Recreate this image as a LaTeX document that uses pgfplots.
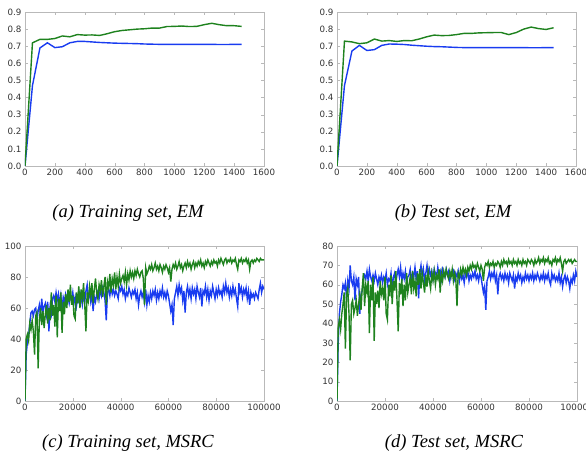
\documentclass[border=0pt]{standalone}
\usepackage{pgfplots}
\pgfplotsset{compat=1.18}
\usepackage{pgfplotstable}
\usepackage{fontspec}
\setmainfont{DejaVu Sans}
\newfontfamily\capfont{Liberation Serif}

\definecolor{mplgreen}{RGB}{30,130,30}
\definecolor{mplblue}{RGB}{25,60,240}

% EM curves: x g b
\pgfplotstableread{
x g b
0 0 0
50 0.72 0.47
100 0.74 0.69
150 0.74 0.72
200 0.745 0.692
250 0.76 0.697
300 0.755 0.72
350 0.768 0.728
400 0.765 0.728
450 0.766 0.725
500 0.763 0.722
550 0.773 0.72
600 0.785 0.718
650 0.792 0.717
700 0.796 0.716
750 0.80 0.715
800 0.802 0.713
850 0.806 0.712
900 0.806 0.711
950 0.815 0.711
1000 0.816 0.711
1050 0.818 0.711
1100 0.815 0.711
1150 0.816 0.711
1200 0.826 0.711
1250 0.834 0.711
1300 0.826 0.710
1350 0.82 0.710
1400 0.82 0.711
1450 0.816 0.711
}\emtrain

\pgfplotstableread{
x g b
0 0 0
50 0.73 0.47
100 0.725 0.672
150 0.715 0.705
200 0.72 0.675
250 0.742 0.68
300 0.73 0.705
350 0.733 0.713
400 0.728 0.712
450 0.733 0.71
500 0.732 0.706
550 0.742 0.703
600 0.755 0.70
650 0.765 0.698
700 0.762 0.697
750 0.763 0.695
800 0.768 0.693
850 0.775 0.692
900 0.775 0.692
950 0.778 0.692
1000 0.779 0.692
1050 0.78 0.692
1100 0.78 0.692
1150 0.768 0.692
1200 0.78 0.692
1250 0.80 0.692
1300 0.812 0.691
1350 0.803 0.691
1400 0.798 0.692
1450 0.808 0.692
}\emtest

% MSRC curves: cg cb = training set, dg db = test set
\pgfplotstableread{
x cg cb dg db
0 0 0 0 0
500 40 30 38 30
1000 43 38 42 45
1500 39 42 37 51
2000 50 50 45 55
2500 46 57 50 60
3000 52 58 56 58
3500 45 55 27 61
4000 30 59 55 52
4500 55 60 58 62
5000 57 52 45 58
5500 21 58 21 70
6000 52 62 50 62
6500 60 56 52 60
7000 49 66 45 64
7500 58 57 48 52
8000 47 61 52 63
8500 56 63 44 60
9000 62 56 50 64
9500 50 64 55 45
10000 60 45 47 55
10500 52 60 58 57
11000 70 56 66 63
11500 55 66 49 65
12000 62 68 60 63
12500 48 64 56 67
13000 68 70 62 62
13500 41 65 35 68
14000 66 69 60 64
14500 58 62 52 62
15000 70 68 64 65
15500 44 60 31 62
16000 64 67 56 66
16500 56 64 50 63
17000 69 69 57 60
17500 60 66 48 64
18000 72 67 62 62
18500 64 63 55 65
19000 75 68 58 61
19500 62 65 52 64
20000 68 70 64 62
20500 55 63 45 66
21000 53 67 42 60
21500 70 61 60 63
22000 63 66 54 62
22500 74 64 65 66
23000 60 70 50 58
23500 72 67 62 64
24000 66 62 57 66
24500 76 68 67 61
25000 62 64 52 65
25500 45 71 36 68
26000 70 75 61 64
26500 65 66 55 69
27000 74 70 63 62
27500 68 64 49 66
28000 76 69 60 63
28500 63 58 52 67
29000 72 67 66 61
29500 79 64 56 64
30000 70 69 60 65
30500 66 71 64 68
31000 75 66 55 62
31500 71 72 67 66
32000 78 68 58 64
32500 67 73 62 69
33000 74 70 54 63
33500 80 65 66 67
34000 62 52 60 53
34500 77 70 68 66
35000 73 72 58 70
35500 82 68 66 64
36000 70 74 61 68
36500 79 69 56 62
37000 75 72 65 66
37500 83 68 59 70
38000 72 71 67 64
38500 80 69 62 68
39000 74 66 58 65
39500 82 73 66 67
40000 76 71 62 63
40500 79 74 67 68
41000 81 69 60 66
41500 77 72 65 64
42000 83 66 63 69
42500 75 70 68 65
43000 82 68 56 67
43500 78 73 66 63
44000 84 70 62 68
44500 80 67 67 66
45000 83 71 64 64
45500 79 69 68 68
46000 84 72 65 65
46500 81 66 63 67
47000 85 70 67 62
47500 82 62 64 66
48000 80 68 68 65
48500 83 71 62 67
49000 84 67 66 63
49500 79 70 63 66
50000 62 64 49 64
50500 86 72 66 67
51000 82 62 64 62
51500 84 68 68 66
52000 87 64 65 63
52500 85 70 69 65
53000 88 66 66 61
53500 84 71 68 66
54000 86 68 65 64
54500 89 72 69 67
55000 85 65 67 62
55500 87 70 70 65
56000 84 66 68 63
56500 88 71 71 66
57000 86 68 69 64
57500 83 73 70 67
58000 87 67 68 63
58500 85 70 71 65
59000 88 66 69 62
59500 86 71 67 66
60000 83 68 70 64
60500 86 63 68 60
61000 77 58 62 56
61500 85 62 69 59
62000 88 49 71 47
62500 86 66 70 62
63000 89 70 72 64
63500 85 74 69 67
64000 87 68 71 63
64500 90 75 70 66
65000 86 70 72 64
65500 88 73 69 67
66000 84 65 71 62
66500 87 71 70 65
67000 89 57 72 55
67500 86 70 71 64
68000 90 74 69 66
68500 87 68 72 63
69000 89 72 70 65
69500 85 66 73 62
70000 88 73 71 66
70500 90 69 72 63
71000 86 72 70 65
71500 89 66 73 61
72000 87 74 71 66
72500 90 70 72 64
73000 88 67 70 62
73500 91 73 73 65
74000 87 61 71 58
74500 89 71 72 64
75000 86 69 70 62
75500 90 74 73 66
76000 88 67 71 63
76500 91 72 72 65
77000 89 65 70 61
77500 87 71 73 64
78000 90 68 71 62
78500 88 74 72 66
79000 91 70 70 63
79500 89 66 73 65
80000 90 72 72 62
80500 87 68 71 65
81000 91 73 73 63
81500 89 69 72 66
82000 92 71 70 62
82500 90 67 73 65
83000 88 74 71 63
83500 91 70 72 66
84000 92 76 74 64
84500 89 70 71 62
85000 91 73 73 65
85500 90 67 72 63
86000 92 72 74 66
86500 89 68 71 62
87000 91 74 73 65
87500 90 69 72 63
88000 92 72 74 66
88500 88 66 71 62
89000 85 61 72 60
89500 91 76 70 66
90000 90 70 73 63
90500 92 73 72 65
91000 89 67 74 62
91500 91 72 71 64
92000 90 69 73 62
92500 92 73 72 66
93000 89 66 74 61
93500 91 71 71 64
94000 85 62 67 59
94500 90 70 72 63
95000 91 67 73 65
95500 89 69 71 61
96000 91 66 72 64
96500 90 70 73 62
97000 92 68 72 58
97500 91 66 73 63
98000 90 72 71 61
98500 92 76 72 65
99000 91 70 73 62
99500 91 74 72 67
100000 91 72 72 64
}\msrc

\pgfplotsset{
  mpl/.style={
    scale only axis,
    anchor=south west,
    axis line style={gray!55},
    tick style={gray!55},
    major tick length=3pt,
    tick align=inside,
    ticklabel style={font=\fontsize{8.7}{10}\selectfont, text=black!80},
    /pgf/number format/assume math mode=true,
    /pgf/number format/1000 sep={},
    /pgf/number format/fixed,
    scaled ticks=false,
  },
  gline/.style={mplgreen, line width=1.4pt},
  bline/.style={mplblue, line width=1.4pt},
  emaxis/.style={
    mpl, height=154pt,
    xmin=0, xmax=1600, ymin=0, ymax=0.9,
    xtick={0,200,...,1600},
    ytick={0,0.1,...,0.9},
    yticklabel style={/pgf/number format/.cd, fixed, fixed zerofill, precision=1},
  },
  msaxis/.style={
    mpl, height=155pt,
    xmin=0, xmax=100000,
    xtick={0,20000,...,100000},
  },
}
\tikzset{subcap/.style={font={\capfont\itshape\fontsize{18.5}{21}\selectfont}}}

\begin{document}
\begin{tikzpicture}
\useasboundingbox (0,0) rectangle (586pt,457pt);
\clip (0,0) rectangle (586pt,457pt);

\begin{axis}[emaxis, at={(25pt,291pt)}, width=239pt]
  \addplot[bline] table[x=x,y=b]{\emtrain};
  \addplot[gline] table[x=x,y=g]{\emtrain};
\end{axis}

\begin{axis}[emaxis, at={(337pt,291pt)}, width=239pt]
  \addplot[bline] table[x=x,y=b]{\emtest};
  \addplot[gline] table[x=x,y=g]{\emtest};
\end{axis}

\begin{axis}[msaxis, at={(25pt,56pt)}, width=239pt,
    ymin=0, ymax=100, ytick={0,20,...,100}]
  \addplot[bline] table[x=x,y=cb]{\msrc};
  \addplot[gline] table[x=x,y=cg]{\msrc};
\end{axis}

\begin{axis}[msaxis, at={(337pt,56pt)}, width=240pt,
    ymin=0, ymax=80, ytick={0,10,...,80}]
  \addplot[bline] table[x=x,y=db]{\msrc};
  \addplot[gline] table[x=x,y=dg]{\msrc};
\end{axis}

\node[subcap] at (128pt,244pt) {(a) Training set, EM};
\node[subcap] at (453pt,244pt) {(b) Test set, EM};
\node[subcap] at (128pt,14pt) {(c) Training set, MSRC};
\node[subcap] at (454pt,14pt) {(d) Test set, MSRC};
\end{tikzpicture}
\end{document}
